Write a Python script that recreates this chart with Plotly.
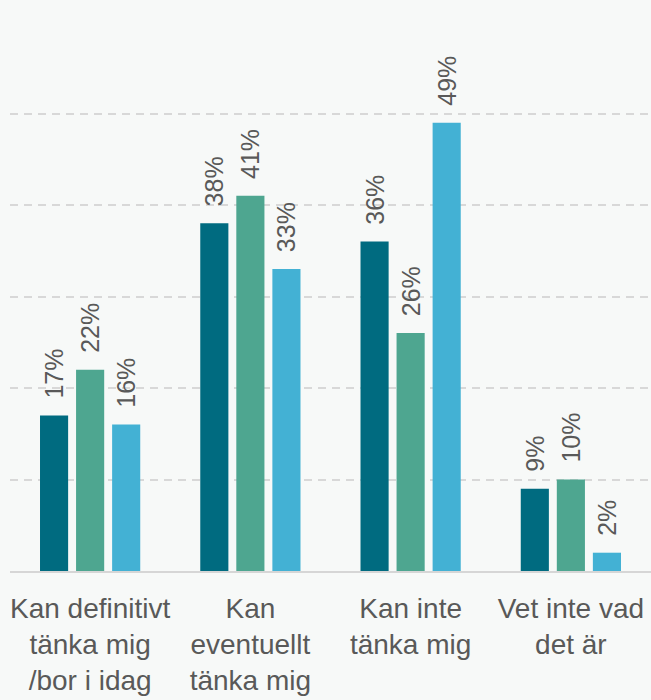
import plotly.graph_objects as go

categories = ["Kan definitivt<br>tänka mig<br>/bor i idag", "Kan<br>eventuellt<br>tänka mig",
              "Kan inte<br>tänka mig", "Vet inte vad<br>det är"]
series_a = [17, 38, 36, 9]
series_b = [22, 41, 26, 10]
series_c = [16, 33, 49, 2]
colors = ["#006B80", "#4EA690", "#43B1D4"]
BG = "#F7F9F8"

fig = go.Figure()
for vals, col in zip([series_a, series_b, series_c], colors):
    fig.add_trace(go.Bar(
        x=categories, y=vals, marker_color=col, marker_line_width=0,
        text=["  " + str(v) + "%" for v in vals], textposition="outside",
        textangle=-90, cliponaxis=False, constraintext="none",
        textfont=dict(size=25, color="#595959", family="Liberation Sans"),
        showlegend=False,
    ))

fig.update_layout(
    width=651, height=700,
    margin=dict(l=10, r=0, t=22, b=129),
    paper_bgcolor=BG, plot_bgcolor=BG,
    barmode="group", bargap=0.325, bargroupgap=0.22,
    font=dict(family="Liberation Sans", color="#595959"),
)
fig.update_xaxes(
    showline=True, linecolor="#D6D6D6", linewidth=2,
    tickfont=dict(size=28, color="#595959"), ticks="", showgrid=False,
    ticklabelstandoff=11,
)
fig.update_yaxes(
    range=[0, 60], dtick=10, showticklabels=False, zeroline=False,
    showgrid=True, gridcolor="#D8D8D8", gridwidth=1.5, griddash="8px,6px",
)
fig.write_html(
    "out.html",
    config={"displayModeBar": False},
    post_script="document.body.style.margin='0';document.body.style.background='%s';" % BG,
)
